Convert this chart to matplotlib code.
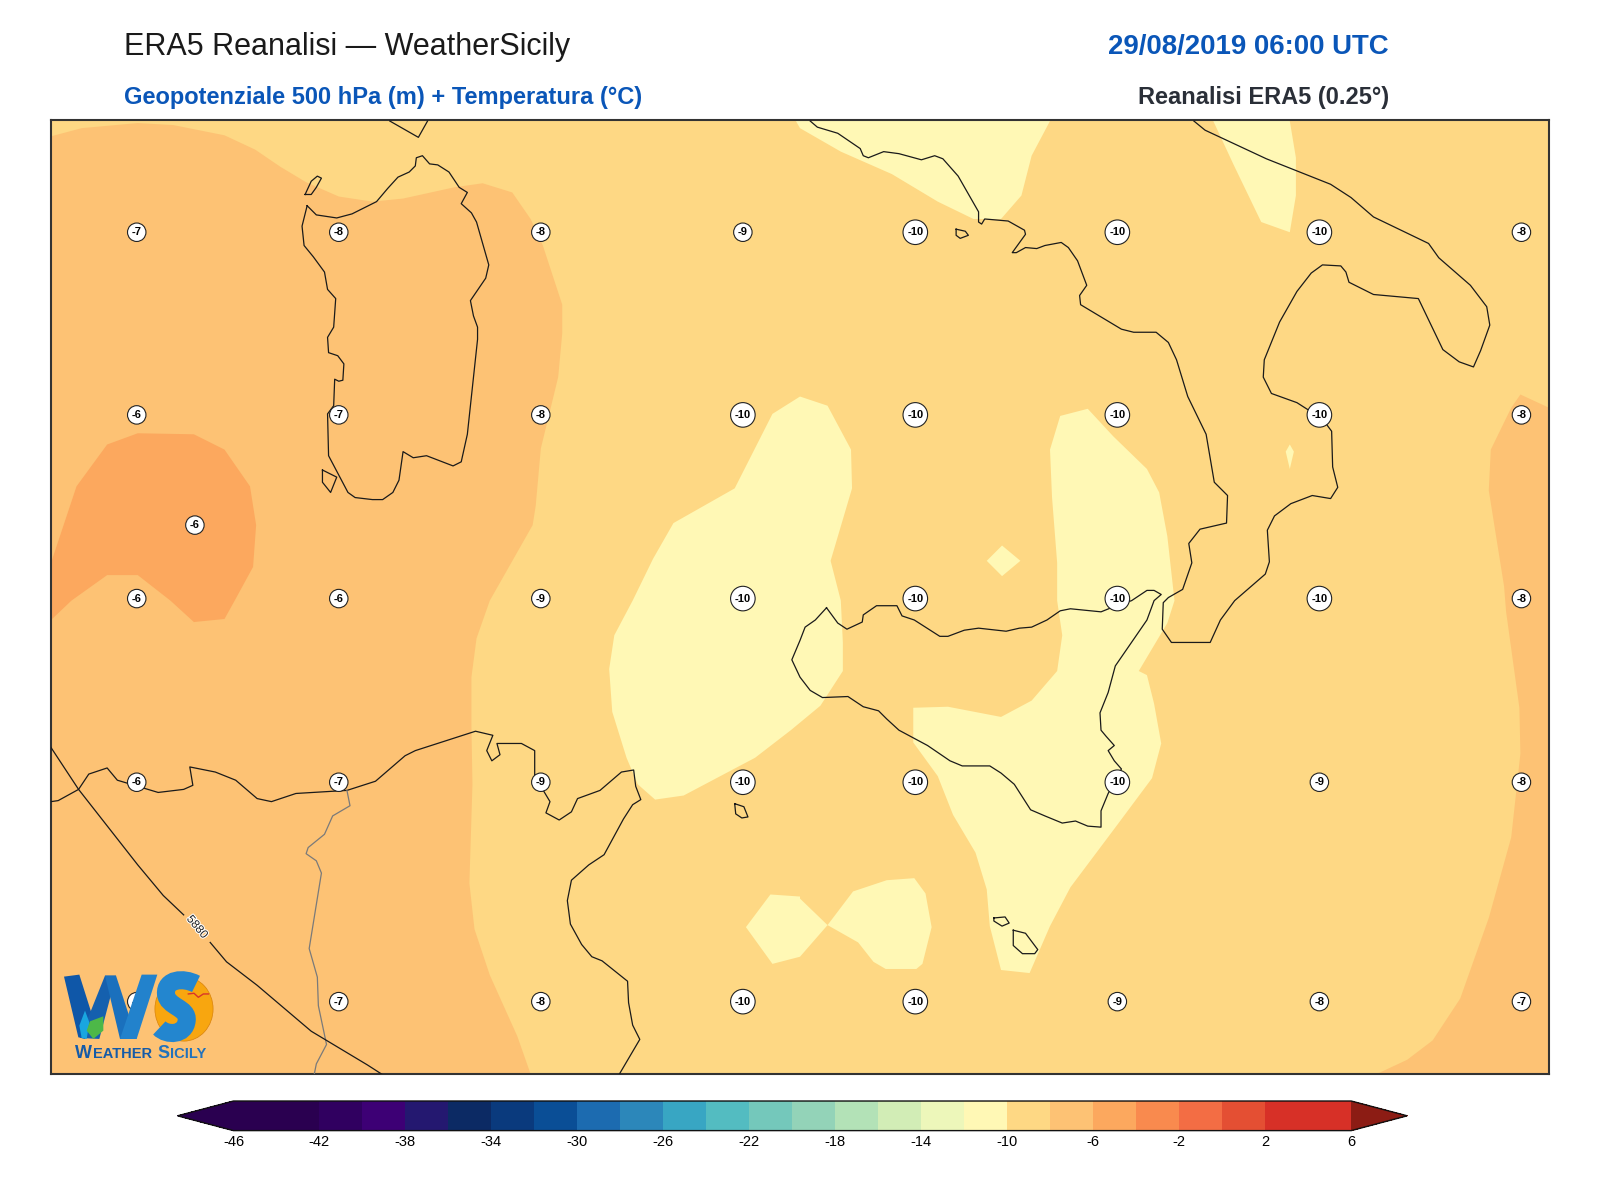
import matplotlib
matplotlib.use("Agg")
import matplotlib.pyplot as plt
import matplotlib.patheffects as pe
from matplotlib.colors import ListedColormap, BoundaryNorm
from matplotlib.cm import ScalarMappable
from matplotlib.patches import Ellipse, PathPatch
from matplotlib.path import Path

plt.rcParams['font.family'] = ['Liberation Sans', 'DejaVu Sans']
plt.rcParams['axes.unicode_minus'] = False

# Map units: picture read-offs, x to the east, y to the south
XLIM = (50, 1518)
YLIM = (1052, 117)

# Colour scale
LEVELS = list(range(-46, 8, 2))
LEVEL_COLORS = ['#2a0050', '#2a0050', '#300060', '#3d0075', '#241870', '#0c2a64', '#0a3a7d',
                '#0a4e96', '#1c6bb0', '#2c87ba', '#38a6c3', '#53bcc1', '#74c8bb', '#93d3b8',
                '#b3e2b7', '#d2edb6', '#edf7ba', '#fff8b5', '#fed884', '#fdc274', '#fca85e',
                '#f98a4e', '#f36d44', '#e44f33', '#d73027', '#d73027']
UNDER_COLOR = '#2a0050'
OVER_COLOR = '#8c1c14'
CBAR_TICKS = list(range(-46, 10, 4))

# Temperature bands
band_west = [(50, 133), (80, 125), (135, 120), (170, 122), (220, 132), (250, 146), (275, 163),
             (300, 178), (332, 192), (365, 197), (395, 194), (445, 183), (473, 179), (502, 188),
             (520, 214), (532, 240), (551, 298), (551, 326), (547, 369), (530, 439), (525, 495),
             (522, 514), (480, 588), (467, 625), (462, 663), (462, 712), (463, 768), (460, 865),
             (465, 910), (480, 955), (507, 1015), (520, 1052), (50, 1052)]
band_east = [(1518, 399), (1490, 386), (1481, 399), (1461, 440), (1459, 480), (1474, 574),
             (1476, 599), (1489, 693), (1490, 738), (1481, 820), (1459, 899), (1431, 978),
             (1404, 1019), (1379, 1038), (1349, 1052), (1518, 1052)]
warm_blob = [(50, 551), (75, 476), (105, 435), (135, 424), (190, 425), (220, 440), (245, 476),
             (251, 514), (248, 555), (230, 588), (220, 606), (190, 609), (167, 588), (135, 563),
             (105, 563), (70, 588), (50, 607)]
cold_west = [(784, 388), (811, 397), (834, 440), (835, 478), (814, 549), (824, 588), (826, 629),
             (826, 657), (804, 691), (775, 715), (740, 742), (670, 779), (642, 783),
             (625, 768), (614, 742), (600, 697), (597, 655), (602, 622), (620, 588), (640, 547),
             (660, 512), (720, 478), (757, 405)]
cold_tyrrhenian = [(780, 118), (784, 125), (824, 148), (874, 170), (919, 197), (954, 214),
                   (981, 214), (1001, 191), (1011, 152), (1029, 118)]
cold_adriatic = [(1189, 118), (1209, 161), (1236, 217), (1264, 227), (1270, 191), (1270, 154),
                 (1264, 118)]
cold_sliver = [(1264, 435), (1268, 442), (1264, 459), (1260, 442)]
cold_diamond = [(982, 534), (1000, 549), (982, 564), (967, 549)]
cold_sicily = [(1039, 407), (1066, 400), (1091, 427), (1124, 459), (1136, 482), (1144, 525),
               (1151, 588), (1144, 610), (1116, 657), (1124, 661), (1131, 689), (1138, 728),
               (1129, 762), (1094, 809), (1049, 869), (1029, 907), (1009, 953), (981, 950),
               (970, 907), (967, 871), (956, 835), (934, 798), (919, 760), (895, 727), (895, 693),
               (929, 692), (981, 702), (1011, 686), (1036, 657), (1041, 622), (1036, 588),
               (1036, 551), (1031, 487), (1029, 440)]
cold_south = [(784, 880), (811, 906), (836, 873), (869, 862), (896, 860), (907, 875), (913, 908),
              (904, 944), (898, 949), (868, 949), (856, 942), (841, 923), (811, 906), (784, 937),
              (757, 944), (731, 908), (755, 876), (784, 878)]

# Coastlines
sardinia = [(301, 201), (310, 210), (330, 213), (345, 209), (369, 197), (380, 184), (390, 173),
            (401, 168), (407, 162), (408, 154), (414, 152), (421, 160), (429, 161), (440, 168),
            (450, 183), (458, 188), (452, 199), (462, 208), (467, 217), (479, 259), (476, 272),
            (461, 294), (464, 309), (468, 320), (468, 332), (458, 425), (452, 452), (444, 456),
            (418, 446), (405, 448), (395, 442), (391, 470), (385, 482), (375, 489), (365, 489),
            (348, 487), (341, 482), (322, 446), (321, 405), (327, 397), (328, 371), (332, 373),
            (336, 372), (337, 356), (331, 348), (322, 345), (321, 330), (327, 320), (329, 292),
            (321, 283), (318, 266), (307, 251), (298, 240), (296, 221)]
asinara = [(299, 190), (305, 177), (311, 172), (315, 174), (310, 183), (305, 190)]
antioco = [(316, 460), (330, 467), (324, 482), (316, 472)]
sicily = [(810, 595), (821, 610), (830, 616), (845, 609), (846, 602), (859, 593), (879, 593),
          (884, 603), (896, 607), (921, 623), (929, 623), (945, 617), (959, 615), (986, 618),
          (999, 615), (1011, 614), (1026, 607), (1039, 598), (1049, 596), (1079, 599), (1089, 595),
          (1109, 588), (1124, 578), (1131, 578), (1138, 582), (1131, 588), (1124, 607), (1093, 652),
          (1086, 678), (1078, 698), (1079, 715), (1084, 721), (1092, 730), (1086, 735), (1092, 745),
          (1099, 753), (1086, 777), (1079, 794), (1079, 810), (1066, 809), (1054, 804), (1041, 806),
          (1024, 799), (1010, 793), (994, 768), (981, 757), (970, 750), (943, 750), (931, 745),
          (909, 730), (881, 715), (869, 704), (861, 696), (846, 692), (831, 682), (806, 683),
          (794, 676), (784, 663), (776, 646), (784, 627), (789, 614), (799, 607)]
ustica = [(937, 224), (946, 226), (949, 230), (941, 233), (937, 230)]
pantelleria = [(720, 787), (729, 790), (733, 800), (727, 801), (721, 797)]
gozo = [(974, 899), (985, 898), (989, 904), (982, 907), (974, 902)]
malta = [(993, 911), (1005, 914), (1017, 930), (1014, 934), (1002, 934), (993, 926)]
corsica = [(382, 118), (410, 134), (419, 118)]
italy = [(794, 118), (801, 124), (821, 130), (843, 145), (846, 152), (851, 154), (866, 148),
         (881, 150), (903, 156), (916, 152), (924, 155), (939, 172), (959, 207), (959, 217),
         (962, 219), (965, 214), (988, 216), (1004, 225), (1005, 229), (992, 247), (996, 247),
         (1005, 242), (1016, 243), (1024, 240), (1040, 237), (1047, 242), (1056, 255), (1065, 279),
         (1058, 289), (1059, 298), (1099, 322), (1111, 325), (1133, 325), (1145, 335), (1153, 352),
         (1164, 388), (1182, 425), (1190, 472), (1203, 485), (1202, 512), (1176, 518), (1165, 532),
         (1168, 551), (1159, 577), (1145, 585), (1140, 590), (1139, 616), (1148, 629), (1186, 629),
         (1196, 607), (1210, 588), (1240, 562), (1244, 550), (1242, 519), (1249, 505), (1265, 493),
         (1286, 485), (1304, 488), (1311, 477), (1306, 457), (1305, 422), (1296, 410), (1271, 394),
         (1246, 385), (1238, 369), (1239, 352), (1254, 315), (1271, 285), (1285, 267), (1296, 259),
         (1314, 260), (1319, 266), (1322, 276), (1346, 288), (1390, 292), (1414, 342), (1430, 354),
         (1444, 359), (1451, 343), (1460, 318), (1457, 300), (1441, 279), (1410, 252), (1400, 238),
         (1346, 212), (1324, 193), (1304, 180), (1241, 155), (1181, 127), (1170, 118)]
africa = [(50, 785), (57, 784), (77, 773), (87, 758), (105, 752), (115, 764), (125, 767), (155, 776),
          (180, 773), (189, 769), (186, 751), (211, 756), (231, 764), (252, 782), (266, 785),
          (290, 777), (340, 774), (368, 765), (397, 740), (407, 735), (466, 716), (483, 720),
          (477, 735), (482, 745), (490, 739), (487, 728), (511, 728), (524, 735), (524, 764),
          (530, 770), (539, 785), (535, 796), (548, 803), (560, 795), (566, 782), (588, 774),
          (609, 756), (621, 754), (623, 770), (628, 783), (620, 788), (611, 802), (592, 837),
          (577, 847), (560, 862), (556, 882), (559, 905), (570, 925), (580, 937), (590, 941),
          (615, 961), (616, 982), (620, 1004), (627, 1018), (607, 1052)]
border = [(340, 774), (343, 789), (326, 799), (318, 817), (302, 830), (300, 836), (310, 843),
          (315, 855), (303, 929), (311, 957), (312, 985), (320, 1023), (310, 1042), (308, 1052)]

# Geopotential isoline 5880 m, split at its label
iso_5880_a = [(50, 732), (77, 773), (135, 847), (160, 877), (180, 896)]
iso_5880_b = [(206, 923), (222, 942), (252, 965), (305, 1010), (360, 1043), (374, 1052)]

# Temperature labels
label_x = [134, 332, 530, 728, 897, 1095, 1293, 1491]
label_y = [227, 406, 586, 766, 981]
label_values = [[-7, -8, -8, -9, -10, -10, -10, -8],
                [-6, -7, -8, -10, -10, -10, -10, -8],
                [-6, -6, -9, -10, -10, -10, -10, -8],
                [-6, -7, -9, -10, -10, -10, -9, -8],
                [-7, -7, -8, -10, -10, -9, -8, -7]]


def px(x):
    return x * 1600 / 1568


fig = plt.figure(figsize=(16, 12), dpi=100)
ax = fig.add_axes([px(50) / 1600, 1 - px(1052.6) / 1200, px(1468) / 1600, px(935) / 1200])
ax.set_xlim(XLIM)
ax.set_ylim(YLIM)
ax.set_xticks([])
ax.set_yticks([])
ax.set_facecolor('#fed884')
for s in ax.spines.values():
    s.set_linewidth(1.5)
    s.set_color('#333333')

# Bands
for poly in [band_west, band_east]:
    ax.fill(*zip(*poly), color='#fdc274', lw=0, zorder=1)
ax.fill(*zip(*warm_blob), color='#fca85e', lw=0, zorder=2)
for poly in [cold_west, cold_tyrrhenian, cold_adriatic, cold_sliver, cold_diamond, cold_sicily, cold_south]:
    ax.fill(*zip(*poly), color='#fff8b5', lw=0, zorder=2)

# Coasts
for line in [sardinia, asinara, antioco, sicily, ustica, pantelleria, gozo, malta]:
    ax.plot(*zip(*(line + line[:1])), color='#1a1a1a', lw=0.9, zorder=3)
for line in [corsica, italy, africa]:
    ax.plot(*zip(*line), color='#1a1a1a', lw=0.9, zorder=3)
ax.plot(*zip(*border), color='#7a7a7a', lw=0.9, zorder=3)

for line in [iso_5880_a, iso_5880_b]:
    ax.plot(*zip(*line), color='#1a1a1a', lw=0.9, zorder=3)
ax.text(193, 908, '5880', rotation=-50, ha='center', va='center', fontsize=8.5, color='#222222',
        zorder=4, path_effects=[pe.withStroke(linewidth=1.5, foreground='white')])


def temp_label(x, y, v):
    ax.text(x, y, str(v), ha='center', va='center', fontsize=8, fontweight='bold', color='black', zorder=5,
            bbox=dict(boxstyle='circle,pad=0.38', fc='white', ec='#222222', lw=0.8))


for yy, row in zip(label_y, label_values):
    for xx, v in zip(label_x, row):
        temp_label(xx, yy, v)
temp_label(191, 514, -6)


# Logo, in its own little pixel space
def logo_xy(points):
    return [((40 + a / 3) / 1.0204, (950 + b / 3) / 1.0204) for a, b in points]


cx, cy = logo_xy([(432, 175)])[0]
ax.add_patch(Ellipse((cx, cy), 57, 63, fc='#f8a60f', ec='#d9820a', lw=0.5, zorder=6))
w_parts = [([(72, 78), (118, 72), (160, 205), (135, 265), (115, 260)], '#0f57a8'),
           ([(120, 262), (195, 75), (228, 75), (178, 265)], '#1560ae'),
           ([(195, 75), (228, 75), (290, 265), (240, 265)], '#1a70bd'),
           ([(240, 265), (290, 265), (352, 72), (305, 72)], '#2282cc')]
for pts, col in w_parts:
    ax.fill(*zip(*logo_xy(pts)), color=col, lw=0, zorder=7)

s_pts = logo_xy([(468, 100), (430, 80), (375, 85), (378, 130), (382, 170), (445, 170), (440, 210),
                 (435, 255), (380, 255), (358, 232)])
s_path = Path(s_pts, [Path.MOVETO] + [Path.CURVE4] * 9)
ax.add_patch(PathPatch(s_path, fc='none', ec='#2386cf', lw=13, capstyle='butt', zorder=7))
leaf = logo_xy([(140, 240), (150, 212), (190, 197), (190, 240), (160, 265)])
ax.fill(*zip(*leaf), color='#4db848', lw=0, zorder=8)
drop = logo_xy([(118, 225), (135, 180), (148, 215), (140, 265), (125, 262)])
ax.fill(*zip(*drop), color='#19a6e0', lw=0, zorder=7)
bird = logo_xy([(445, 130), (462, 128), (475, 140), (490, 130), (505, 130)])
ax.plot(*zip(*bird), color='#d9352a', lw=1, zorder=8)
ax.text(73, 1032, 'W', ha='left', va='center', fontsize=13, fontweight='bold', color='#155ba8', zorder=8)
ax.text(91, 1032.5, 'EATHER', ha='left', va='center', fontsize=10.5, fontweight='bold', color='#155ba8', zorder=8)
ax.text(154, 1032, 'S', ha='left', va='center', fontsize=13, fontweight='bold', color='#2272bc', zorder=8)
ax.text(167, 1032.5, 'ICILY', ha='left', va='center', fontsize=10.5, fontweight='bold', color='#2272bc', zorder=8)

# Titles
ax.text(122, 45.5, 'ERA5 Reanalisi \u2014 WeatherSicily', ha='left', va='center', fontsize=22, color='#1a1a1a', clip_on=False)
ax.text(1361, 45.5, '29/08/2019 06:00 UTC', ha='right', va='center', fontsize=19.9, fontweight='bold', color='#0a56b8', clip_on=False)
ax.text(122, 95, 'Geopotenziale 500 hPa (m) + Temperatura (\u00b0C)', ha='left', va='center', fontsize=17, fontweight='bold', color='#0a56b8', clip_on=False)
ax.text(1361, 95, 'Reanalisi ERA5 (0.25\u00b0)', ha='right', va='center', fontsize=17, fontweight='bold', color='#2a2f38', clip_on=False)

# Colorbar
cax = fig.add_axes([px(174) / 1600, 1 - px(1108) / 1200, px(1205) / 1600, px(29) / 1200])
cmap = ListedColormap(LEVEL_COLORS)
cmap.set_under(UNDER_COLOR)
cmap.set_over(OVER_COLOR)
norm = BoundaryNorm(LEVELS, cmap.N)
sm = ScalarMappable(norm=norm, cmap=cmap)
cb = fig.colorbar(sm, cax=cax, orientation='horizontal', extend='both', extendfrac=0.05,
                  ticks=CBAR_TICKS, spacing='proportional')
cb.minorticks_off()
cb.ax.tick_params(length=0, labelsize=10.5, pad=3.5)
cb.outline.set_linewidth(1.0)
cb.outline.set_edgecolor('#111111')

fig.savefig('out.png', dpi=100)
